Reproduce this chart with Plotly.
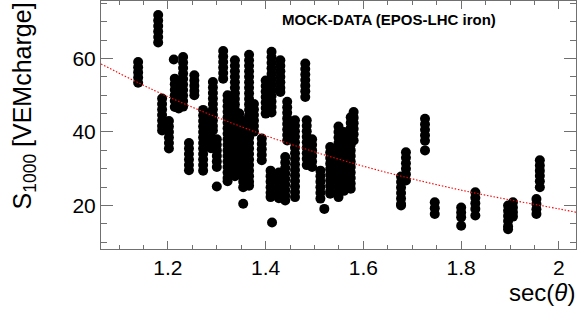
import plotly.graph_objects as go

# ---- data: columns of S1000 values at given sec(theta) ----
col_x = [1.139, 1.180, 1.188, 1.202, 1.212, 1.214, 1.222, 1.231, 1.243, 1.254,
         1.272, 1.282, 1.292, 1.288, 1.300, 1.300, 1.313, 1.322, 1.337, 1.346,
         1.354, 1.354, 1.366, 1.376, 1.392, 1.400, 1.410, 1.413, 1.412, 1.430,
         1.427, 1.444, 1.440, 1.460, 1.481, 1.484, 1.495, 1.512, 1.520, 1.532,
         1.549, 1.560, 1.574, 1.580, 1.677, 1.687, 1.726, 1.746, 1.800, 1.829,
         1.896, 1.906, 1.954, 1.961]

col_y = [
    [59.0, 57.6, 56.2, 54.8, 53.4],
    [71.8, 70.3, 68.8, 67.3, 65.8, 64.3],
    [49.1, 47.6, 46.1, 44.6, 43.1, 41.6, 40.4],
    [43.0, 41.5, 40.0, 38.5, 37.0, 35.5],
    [59.7],
    [54.5, 53.0, 51.5, 50.0, 48.5, 46.8],
    [52.8, 51.2, 49.6, 48.0, 46.4],
    [60.4, 58.9, 57.4, 55.9, 54.4, 52.9, 51.4, 49.9, 48.4, 46.9],
    [37.0, 35.5, 34.0, 32.5, 31.0, 29.6],
    [55.4, 54.0, 52.6, 51.2, 50.0],
    [46.0, 44.5, 43.0, 41.5, 40.0, 38.5, 37.0, 35.5, 34.0, 32.5, 31.0, 29.5],
    [45.0, 43.5, 42.0, 40.5, 39.0],
    [53.6, 52.1, 50.6, 49.1, 47.6, 46.1, 44.6, 43.1, 41.6, 40.4],
    [38.6, 37.1, 35.6],
    [38.0, 36.5, 35.0, 33.5, 32.0, 30.5],
    [25.2],
    [62.0, 60.5, 59.0, 57.5, 56.0, 54.5],
    [50.0, 48.5, 47.0, 45.5, 44.0, 42.5, 41.0, 39.5, 38.0, 36.5, 35.0, 33.5, 32.0, 30.5, 29.0, 27.5, 26.6],
    [59.5, 58.0, 56.5, 55.0, 53.5, 52.0, 50.5, 49.0, 47.5, 46.0, 44.5, 43.0, 41.5, 40.0, 38.5, 37.0, 35.5, 34.0, 32.5, 31.0, 29.5, 28.0],
    [45.0, 43.5, 42.0, 40.5, 39.0, 37.5, 36.0, 34.5, 33.0, 31.5, 30.0],
    [43.0, 41.5, 40.0, 38.5, 37.0, 35.5, 34.0, 32.5, 31.0, 29.5, 28.0, 26.5, 25.0],
    [20.5],
    [61.0, 59.5, 58.0, 56.5, 55.0, 53.5, 52.0, 50.5, 49.0, 47.5, 46.0, 44.5, 43.0, 41.5, 40.0, 38.5, 37.0, 35.5, 34.0, 32.5, 31.0, 29.5, 28.0, 26.5, 25.4],
    [47.6, 46.1, 44.6, 43.1, 41.6, 40.1],
    [38.2, 36.8, 35.3, 33.8, 32.3],
    [54.0, 52.5, 51.0, 49.5, 48.0, 46.5, 45.0],
    [29.5, 28.0, 26.5, 25.0, 23.5, 22.3],
    [15.4],
    [61.8, 60.3, 58.8, 57.3, 55.8, 54.3, 52.8, 51.3, 49.8, 48.3, 46.8, 45.3],
    [59.5, 58.0, 56.5, 55.0, 53.5, 52.0, 50.9],
    [29.0, 27.5, 26.0, 24.5, 23.0, 22.0],
    [48.2, 46.7, 45.2, 43.7, 42.2, 40.7, 39.2, 37.7],
    [33.2, 31.7, 30.2, 28.7, 27.2, 25.7, 24.2, 22.7, 21.4],
    [43.2, 41.7, 40.2, 38.7, 37.2, 35.7, 34.2, 32.7, 31.2, 29.7, 28.2, 26.7, 25.2, 23.7, 22.3],
    [58.6, 57.1, 55.6, 54.1, 52.6, 51.1, 49.5],
    [43.2, 41.7, 40.2, 38.7, 37.2, 35.7, 34.2, 32.7, 31.0],
    [38.0, 36.5, 35.0, 33.5, 32.0, 30.5],
    [29.5, 28.0, 26.5, 25.0, 23.5, 21.9],
    [19.1],
    [35.9, 34.4, 32.9, 31.4, 29.9, 28.4, 26.9, 25.4, 23.9, 23.2],
    [41.5, 40.0, 38.5, 37.0, 35.5, 34.0, 32.5, 31.0, 29.5, 28.0, 26.5, 25.0, 23.5, 22.3],
    [40.0, 38.5, 37.0, 35.5, 34.0, 32.5, 31.0, 29.5, 28.0, 26.5, 25.0, 24.0],
    [44.0, 42.5, 41.0, 39.5, 38.0, 36.5, 35.0, 33.5, 32.0, 30.5, 29.0, 27.5, 26.0, 24.6],
    [45.4, 43.9, 42.4, 40.9, 39.4, 37.7],
    [27.9, 26.4, 24.9, 23.4, 21.9, 20.4, 20.0],
    [34.5, 33.0, 31.5, 30.0, 28.5, 26.8],
    [43.6, 42.1, 40.6, 39.1, 37.6, 35.0],
    [20.9, 19.3, 17.7],
    [19.5, 18.1, 16.8, 14.5],
    [23.6, 22.1, 20.6, 19.1, 17.3],
    [20.0, 18.6, 17.2, 15.8, 14.4, 13.6],
    [20.9, 19.5, 18.2, 17.0],
    [21.8, 20.4, 19.0, 17.7],
    [32.3, 30.9, 29.5, 28.1, 26.6, 25.0],
]

# fit curve
fit_x = [1.063, 1.2, 1.4, 1.6, 1.8, 2.0, 2.035]
fit_y = [58.5, 49.6, 39.0, 30.7, 24.2, 19.1, 18.2]

x_tickvals = [1.2, 1.4, 1.6, 1.8, 2.0]
x_ticktext = ["1.2", "1.4", "1.6", "1.8", "2"]
y_tickvals = [20, 40, 60]
y_ticktext = ["20", "40", "60"]

pts_x = []
pts_y = []
for cx, ys in zip(col_x, col_y):
    for v in ys:
        pts_x.append(cx)
        pts_y.append(v)

FONT = "Liberation Sans, Arial, Helvetica, sans-serif"
FRAME = "#707070"

fig = go.Figure()
fig.add_trace(go.Scatter(x=pts_x, y=pts_y, mode="markers",
                         marker=dict(size=10, color="black", line=dict(width=0)),
                         showlegend=False, hoverinfo="skip"))
fig.add_trace(go.Scatter(x=fit_x, y=fit_y, mode="lines",
                         line=dict(color="red", width=1.1, dash="1.5px,1.8px", shape="spline"),
                         showlegend=False, hoverinfo="skip"))

fig.update_layout(
    width=577, height=316,
    margin=dict(l=101, r=1, t=1, b=67),
    paper_bgcolor="white", plot_bgcolor="white",
    font=dict(family=FONT, color="black"),
    xaxis=dict(range=[1.063, 2.035], showgrid=False, zeroline=False,
               showline=True, linecolor=FRAME, linewidth=1, mirror="ticks",
               ticks="inside", ticklen=8, tickcolor=FRAME, tickwidth=1,
               tickvals=x_tickvals, ticktext=x_ticktext,
               tickfont=dict(size=21, family=FONT, color="black"),
               minor=dict(ticks="inside", ticklen=4, dtick=0.05, tick0=1.0,
                          tickcolor=FRAME, showgrid=False)),
    yaxis=dict(range=[8.2, 75.6], showgrid=False, zeroline=False,
               showline=True, linecolor=FRAME, linewidth=1, mirror="ticks",
               ticks="inside", ticklen=12, tickcolor=FRAME, tickwidth=1,
               tickvals=y_tickvals, ticktext=y_ticktext,
               tickfont=dict(size=21, family=FONT, color="black"),
               minor=dict(ticks="inside", ticklen=6, dtick=5, tick0=0,
                          tickcolor=FRAME, showgrid=False)),
    annotations=[
        dict(text="S<sub>1000</sub> [VEMcharge]", xref="paper", yref="paper",
             x=-78/475, y=1.0, xanchor="center", yanchor="top", textangle=-90,
             showarrow=False, font=dict(size=25, family=FONT, color="black")),
        dict(text="sec(<i>θ</i>)", xref="paper", yref="paper",
             x=1.002, y=-43/248, xanchor="right", yanchor="middle",
             showarrow=False, font=dict(size=24, family=FONT, color="black")),
        dict(text="<b>MOCK-DATA (EPOS-LHC iron)</b>", xref="paper", yref="paper",
             x=(389-101)/475, y=1 - 18.5/248, xanchor="center", yanchor="middle",
             showarrow=False, font=dict(size=15, family=FONT, color="black")),
    ],
)

fig.write_html("out.html",
               config={"displayModeBar": False, "staticPlot": True},
               post_script="document.body.style.margin='0';document.body.style.overflow='hidden';")
